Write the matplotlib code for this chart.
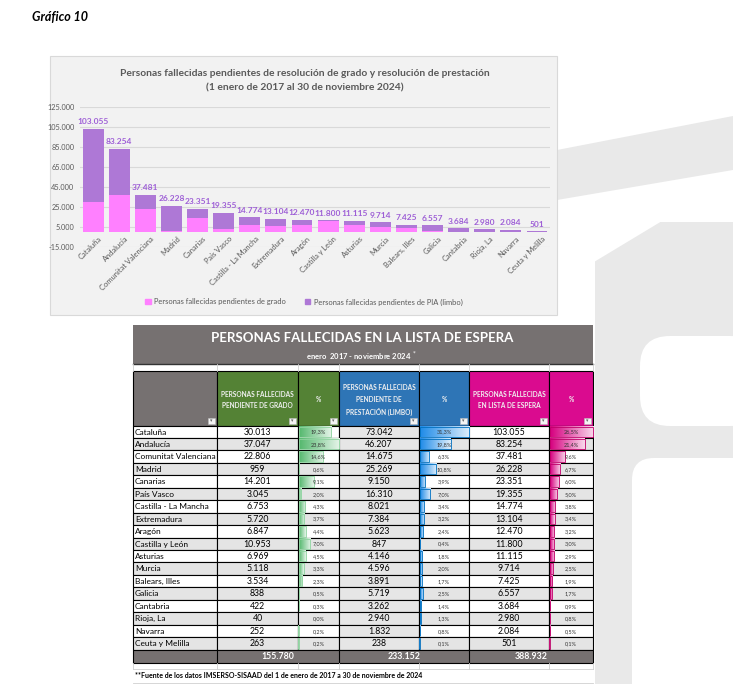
# -----------------------------------------------------------------------------------------
# Grafico 10: personas fallecidas en lista de espera (chart + table)

import numpy as np
from matplotlib import pyplot as plt
from matplotlib.patches import Rectangle, Polygon, FancyBboxPatch
from matplotlib.lines import Line2D
from matplotlib.colors import to_rgb

plt.rcParams['font.family'] = ['Lato', 'DejaVu Sans']

# -----------------------------------------------------------------------------------------
# Data

chart_labels = ['Cataluña', 'Andalucía', 'Comunitat Valenciana', 'Madrid', 'Canarias', 'País Vasco',
                'Castilla - La Mancha', 'Extremadura', 'Aragón', 'Castilla y León', 'Asturias', 'Murcia',
                'Balears, Illes', 'Galicia', 'Cantabria', 'Rioja, La', 'Navarra', 'Ceuta y Melilla']
table_labels = ['Cataluña', 'Andalucía', 'Comunitat Valenciana', 'Madrid', 'Canarias', 'País Vasco',
                'Castilla - La Mancha', 'Extremadura', 'Aragón', 'Castilla y León', 'Asturias', 'Murcia',
                'Balears, Illes', 'Galicia', 'Cantabria', 'Rioja, La', 'Navarra', 'Ceuta y Melilla']
grado = [30013, 37047, 22806, 959, 14201, 3045, 6753, 5720, 6847, 10953, 6969, 5118, 3534, 838, 422, 40, 252, 263]
limbo = [73042, 46207, 14675, 25269, 9150, 16310, 8021, 7384, 5623, 847, 4146, 4596, 3891, 5719, 3262, 2940, 1832, 238]
total = [103055, 83254, 37481, 26228, 23351, 19355, 14774, 13104, 12470, 11800, 11115, 9714, 7425, 6557, 3684, 2980, 2084, 501]
pct_grado = [19.3, 23.8, 14.6, 0.6, 9.1, 2.0, 4.3, 3.7, 4.4, 7.0, 4.5, 3.3, 2.3, 0.5, 0.3, 0.0, 0.2, 0.2]
pct_limbo = [31.3, 19.8, 6.3, 10.8, 3.9, 7.0, 3.4, 3.2, 2.4, 0.4, 1.8, 2.0, 1.7, 2.5, 1.4, 1.3, 0.8, 0.1]
pct_total = [26.5, 21.4, 9.6, 6.7, 6.0, 5.0, 3.8, 3.4, 3.2, 3.0, 2.9, 2.5, 1.9, 1.7, 0.9, 0.8, 0.5, 0.1]
sum_grado, sum_limbo, sum_total = 155780, 233152, 388932
y_ticks = [-15000, 5000, 25000, 45000, 65000, 85000, 105000, 125000]

# -----------------------------------------------------------------------------------------
# Helpers

W, H = 733, 684


def miles(v):
    return f'{v:,}'.replace(',', '.')


def pct(v):
    return f'{v:.1f}%'.replace('.', ',')


def fx(px):
    return px / W


def fy(py):
    return 1 - py / H


fig = plt.figure(figsize=(W / 100, H / 100), dpi=100)
fig.patch.set_facecolor('white')

# page layer in pixel coordinates
bg = fig.add_axes([0, 0, 1, 1])
bg.set_xlim(0, W)
bg.set_ylim(H, 0)
bg.axis('off')

# watermark (light grey logo on the right)
wm = '#e9e9e9'
bg.add_patch(Polygon([(557, 150), (733, 116), (733, 170), (557, 200)], closed=True, color=wm, lw=0))
bg.add_patch(Rectangle((595, 222), 138, 462, color=wm, lw=0))
bg.add_patch(Polygon([(594, 221), (662, 221), (594, 262)], closed=True, color='white', lw=0))
bg.add_patch(FancyBboxPatch((640, 336), 120, 90, boxstyle='round,pad=0,rounding_size=30', color='white', lw=0))
bg.add_patch(FancyBboxPatch((632, 458), 130, 260, boxstyle='round,pad=0,rounding_size=22', color='white', lw=0))

bg.text(32, 17, 'Gráfico 10', fontsize=9, fontweight='bold', fontstyle='italic', va='center')

# -----------------------------------------------------------------------------------------
# Chart

bg.add_patch(Rectangle((50, 56), 507, 259, facecolor='#f2f2f2', edgecolor='#d9d9d9', lw=0.8))
bg.text(305, 73, 'Personas fallecidas pendientes de resolución de grado y resolución de prestación',
        ha='center', va='center', fontsize=7.4, fontweight='bold', color='#595959')
bg.text(305, 88, '(1 enero de 2017 al 30 de noviembre 2024)',
        ha='center', va='center', fontsize=7.4, fontweight='bold', color='#595959')

pink = '#ff80ff'
purple = '#ae78d6'
ax = fig.add_axes([fx(80), fy(247), fx(550) - fx(80), (247 - 107) / H])
ax.set_facecolor('none')
x = np.arange(len(chart_labels))
ax.bar(x, grado, width=0.8, color=pink, zorder=3)
ax.bar(x, limbo, bottom=grado, width=0.8, color=purple, zorder=3)
for i, t in enumerate(total):
    ax.text(i, t + 3500, miles(t), ha='center', va='bottom', fontsize=6, fontweight='bold', color='#9e5fd6')
    ax.text(i + 0.2, -3000, chart_labels[i], rotation=45, rotation_mode='anchor', ha='right', va='top',
            fontsize=5.4, color='#595959')
ax.set_xlim(-0.5, len(chart_labels) - 0.5)
ax.set_ylim(-15000, 125000)
ax.set_yticks(y_ticks)
ax.set_yticklabels([miles(v) for v in y_ticks], fontsize=5.3, color='#595959')
ax.set_xticks([])
ax.tick_params(axis='y', length=0, pad=4)
ax.grid(axis='y', color='#d9d9d9', lw=0.8, zorder=0)
for s in ax.spines.values():
    s.set_visible(False)

handles = [Rectangle((0, 0), 1, 1, color=pink), Rectangle((0, 0), 1, 1, color=purple)]
fig.legend(handles, ['Personas fallecidas pendientes de grado', 'Personas fallecidas pendientes de PIA (limbo)'],
           loc='center', bbox_to_anchor=(fx(304), fy(302)), ncol=2, frameon=False, fontsize=5.4,
           handlelength=0.7, handleheight=0.7, handletextpad=0.5, columnspacing=2.5, labelcolor='#595959')

# -----------------------------------------------------------------------------------------
# Table

cols = [133, 217, 298, 339, 419, 469, 549, 593]
dark = '#767171'
green, blue, magenta = '#548235', '#2e75b6', '#da0b8f'
row_top, row_h = 425.5, 12.45
n = len(table_labels)

bg.add_patch(Rectangle((cols[0], 325), cols[-1] - cols[0], 39, color=dark, lw=0))
bg.text(362, 338, 'PERSONAS FALLECIDAS EN LA LISTA DE ESPERA', ha='center', va='center',
        fontsize=9.5, fontweight='bold', color='white')
bg.text(362, 356, 'enero  2017 - noviembre 2024 $^*$', ha='center', va='center',
        fontsize=5.5, fontweight='bold', color='white')
bg.add_line(Line2D([cols[0], cols[-1]], [364, 364], color='#333333', lw=1))
for c in cols:
    bg.add_line(Line2D([c, c], [364, 371], color='#d0d0d0', lw=0.6))

# header
head_y0, head_y1 = 371, row_top
head_cols = [dark, green, green, blue, blue, magenta, magenta]
head_text = ['', 'PERSONAS FALLECIDAS\nPENDIENTE DE GRADO', '%',
             'PERSONAS FALLECIDAS\nPENDIENTE DE\nPRESTACIÓN (LIMBO)', '%',
             'PERSONAS FALLECIDAS\nEN LISTA DE ESPERA', '%']
for j in range(7):
    x0, x1 = cols[j], cols[j + 1]
    bg.add_patch(Rectangle((x0, head_y0), x1 - x0, head_y1 - head_y0, facecolor=head_cols[j],
                           edgecolor='black', lw=0.8))
    bg.text((x0 + x1) / 2, 400, head_text[j], ha='center', va='center', fontsize=4.7,
            fontweight='bold', color='#f0f0f0', linespacing=1.7)
    bg.add_patch(Rectangle((x1 - 9, head_y1 - 8), 7, 6.5, facecolor='#f4f4f4', edgecolor='#bbbbbb', lw=0.4))
    bg.text(x1 - 5.5, head_y1 - 4.7, '▾', ha='center', va='center', fontsize=3.5, color='#666666')


def databar(x0, y0, width, height, frac, color, edge):
    if frac <= 0:
        return
    w = width * frac
    c0 = np.array(to_rgb(color))
    grad = np.linspace(0, 0.85, 64)[:, None]
    rgb = c0[None, :] * (1 - grad) + grad
    bg.imshow(rgb[None, :, :], extent=(x0 + 0.8, x0 + w, y0 + height - 1, y0 + 1), aspect='auto',
              interpolation='bilinear', zorder=2)
    bg.add_patch(Rectangle((x0 + 0.8, y0 + 1), w - 0.8, height - 2, fill=False, edgecolor=edge, lw=0.6, zorder=3))


for i in range(n):
    y0 = row_top + i * row_h
    shade = '#e4e4e4' if i % 2 else 'white'
    for j in range(7):
        face = '#e6e6e6' if j == 3 else shade
        bg.add_patch(Rectangle((cols[j], y0), cols[j + 1] - cols[j], row_h, facecolor=face,
                               edgecolor='black', lw=0.8, zorder=1))
    yc = y0 + row_h / 2 + 0.3
    bg.text(cols[0] + 2, yc, table_labels[i], ha='left', va='center', fontsize=6, zorder=4)
    for j, v in [(1, grado[i]), (3, limbo[i]), (5, total[i])]:
        bg.text((cols[j] + cols[j + 1]) / 2, yc, miles(v), ha='center', va='center', fontsize=6.3, zorder=4)
    for j, vals, col, edge in [(2, pct_grado, '#55b86e', '#8fd3a0'), (4, pct_limbo, '#1f8be8', '#0070c0'),
                                (6, pct_total, '#d6007f', '#c0006a')]:
        databar(cols[j], y0, cols[j + 1] - cols[j], row_h, vals[i] / max(vals), col, edge)
        bg.text((cols[j] + cols[j + 1]) / 2, yc, pct(vals[i]), ha='center', va='center', fontsize=4,
                color='#333333', zorder=4)

# total row
ty0 = row_top + n * row_h
bg.add_patch(Rectangle((cols[0], ty0), cols[-1] - cols[0], 13, facecolor=dark, edgecolor='black', lw=0.8))
for c in [cols[1], cols[3], cols[5]]:
    bg.add_line(Line2D([c, c], [ty0, ty0 + 13], color='black', lw=0.8))
for j, v in [(1, sum_grado), (3, sum_limbo), (5, sum_total)]:
    bg.text((cols[j] + cols[j + 2]) / 2, ty0 + 6.8, miles(v), ha='center', va='center', fontsize=6.3,
            fontweight='bold', color='white')

# blank row + source note
by0 = ty0 + 13
for c in cols:
    bg.add_line(Line2D([c, c], [by0, by0 + 6], color='#d0d0d0', lw=0.6))
bg.add_line(Line2D([cols[0], cols[-1]], [by0 + 6, by0 + 6], color='#d0d0d0', lw=0.6))
bg.add_line(Line2D([cols[0], cols[-1]], [by0 + 20, by0 + 20], color='#d0d0d0', lw=0.6))
bg.text(cols[0] + 2, by0 + 13, '**Fuente de los datos IMSERSO-SISAAD del 1 de enero de 2017 a 30 de noviembre de 2024',
        ha='left', va='center', fontsize=5, fontweight='bold')

bg.set_xlim(0, W)
bg.set_ylim(H, 0)

fig.savefig('out.png', dpi=100)
